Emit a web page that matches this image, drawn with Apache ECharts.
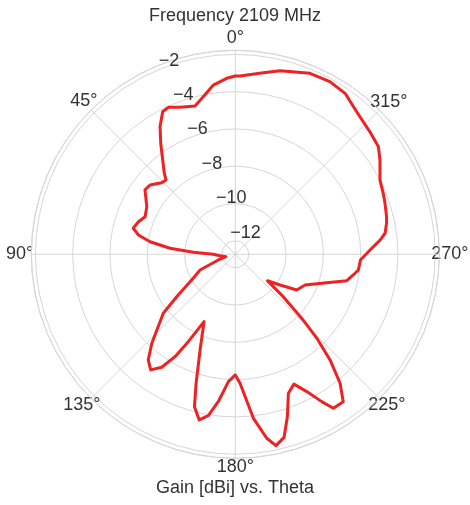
<!DOCTYPE html>
<html><head><meta charset="utf-8">
<script src="https://cdn.jsdelivr.net/npm/echarts@6/dist/echarts.min.js"></script>
<style>html,body{margin:0;padding:0;background:#fff}#c{width:470px;height:505px}</style>
</head><body><div id="c"></div>
<script>
// ---- data ----
const titleText = 'Frequency 2109 MHz';
const bottomText = 'Gain [dBi] vs. Theta';
const angleTicks = [0, 45, 90, 135, 180, 225, 270, 315];
const radialTicks = [-12, -10, -8, -6, -4, -2];
const radialMin = -12.72;
const radialMax = -1.78;
const theta = [0, 2.8, 7.4, 11.5, 15.2, 20.6, 24.5, 27, 30.5, 33.9, 37.6, 41.2, 43, 45.8, 50.9, 54.5, 61.7, 67.4, 71.4, 75.7, 78.7, 81.6, 84.7, 87.3, 90, 95.2, 104.5, 108.5, 114, 119.7, 125.9, 129.3, 136.8, 140.5, 143.8, 146.9, 149.5, 151.7, 155.1, 159.8, 163.1, 165, 167.7, 170.5, 173.4, 176.9, 180, 182.1, 186.3, 189.7, 192, 194.9, 197.8, 200.9, 204.3, 207.5, 210.4, 212.5, 216.2, 219.1, 221.9, 224.1, 226.1, 228.5, 230.5, 235.5, 239.8, 246.2, 252.7, 256.7, 261, 262.7, 267.4, 271.8, 275.6, 278, 281.6, 284, 288.8, 292.4, 297.2, 299.2, 303.1, 306.9, 312.3, 319.6, 325.7, 331.3, 337.6, 346.3, 351.2, 358.5, 360];
const gain = [-3.16, -3.27, -3.57, -4.10, -4.48, -4.30, -4.06, -4.14, -4.77, -5.55, -6.34, -6.94, -7.27, -7.21, -6.83, -6.77, -7.33, -7.48, -7.24, -7.07, -7.42, -8.10, -9.20, -10.47, -11.54, -11.89, -12.2, -11.76, -10.65, -10.12, -8.84, -7.73, -6.18, -5.38, -5.04, -5.49, -6.35, -7.40, -8.74, -7.25, -5.49, -4.26, -3.63, -3.95, -4.76, -5.88, -6.25, -5.80, -3.87, -2.71, -2.23, -2.56, -3.58, -4.74, -5.08, -4.42, -3.56, -2.93, -2.92, -3.81, -5.11, -6.40, -7.78, -9.29, -10.49, -9.81, -8.91, -8.63, -7.59, -6.58, -6.22, -6.07, -6.00, -5.49, -4.92, -4.61, -4.44, -4.36, -4.24, -4.14, -4.0, -3.83, -3.46, -3.12, -2.96, -2.68, -2.27, -2.16, -2.22, -2.59, -2.87, -3.15, -3.16];

// ---- style ----
const FONT = "'Liberation Sans', Arial, sans-serif";
const TXT = '#333333';
const GRID = '#d6d6d6';
const CX = 235.3, CY = 254.3, R = 204;
// per-label padding [top, right, bottom, left] to centre angle labels like matplotlib
const anglePad = {
  0: [0, 0, 19, 0], 45: [0, 5, 11, 0], 90: [0, 14, 0, 0], 135: [9, 2, 0, 0],
  180: [16, 0, 0, 0], 225: [9, 0, 0, 0], 270: [0, 0, 0, 8], 315: [0, 0, 10, 2]
};
const rich = {};
angleTicks.forEach(a => {
  rich['a' + a] = { padding: anglePad[a], fontSize: 18, fontFamily: FONT, color: TXT };
});

const chart = echarts.init(document.getElementById('c'), null, { renderer: 'canvas' });
chart.setOption({
  animation: false,
  backgroundColor: '#ffffff',
  title: [
    { text: titleText, left: 'center', top: 7, padding: 0,
      textStyle: { fontSize: 18, fontWeight: 'normal', color: TXT, fontFamily: FONT } },
    { text: bottomText, left: 'center', top: 479, padding: 0,
      textStyle: { fontSize: 18, fontWeight: 'normal', color: TXT, fontFamily: FONT } }
  ],
  polar: [
    { center: [CX, CY], radius: R },
    { center: [CX, CY], radius: R }
  ],
  angleAxis: [
    {
      polarIndex: 0, type: 'value', min: 0, max: 360, interval: 45,
      startAngle: 90, clockwise: false,
      axisLine: { show: true, lineStyle: { color: GRID, width: 1 } },
      axisTick: { show: false },
      splitLine: { show: true, lineStyle: { color: GRID, width: 1 } },
      axisLabel: {
        margin: -16, fontSize: 18, fontFamily: FONT, color: TXT,
        formatter: v => angleTicks.indexOf(v) >= 0 ? '{a' + v + '|' + v + '°}' : '',
        rich: rich
      }
    },
    {
      polarIndex: 1, type: 'value', min: 0, max: 360,
      startAngle: 112.5, clockwise: false, show: false
    }
  ],
  radiusAxis: [
    {
      polarIndex: 0, type: 'value', min: radialMin, max: radialMax,
      axisLine: { show: false }, axisTick: { show: false }, axisLabel: { show: false },
      splitLine: { show: true, lineStyle: { color: GRID, width: 1 } }
    },
    {
      polarIndex: 1, type: 'value', min: radialMin, max: radialMax,
      axisLine: { show: false }, axisTick: { show: false }, splitLine: { show: false },
      axisLabel: {
        show: true, margin: 0, align: 'left', verticalAlign: 'bottom',
        fontSize: 18, fontFamily: FONT, color: TXT,
        formatter: v => {
          const k = Math.round(v);
          return (Math.abs(v - k) < 1e-6 && radialTicks.indexOf(k) >= 0) ? '\u2212' + Math.abs(k) : '';
        }
      }
    }
  ],
  series: [{
    type: 'line', coordinateSystem: 'polar', polarIndex: 0,
    data: theta.map((t, i) => [gain[i], t]),
    showSymbol: false, symbol: 'none',
    lineStyle: { color: '#ee2222', width: 3, join: 'round', cap: 'round' },
    z: 5
  }]
});
</script>
</body></html>
